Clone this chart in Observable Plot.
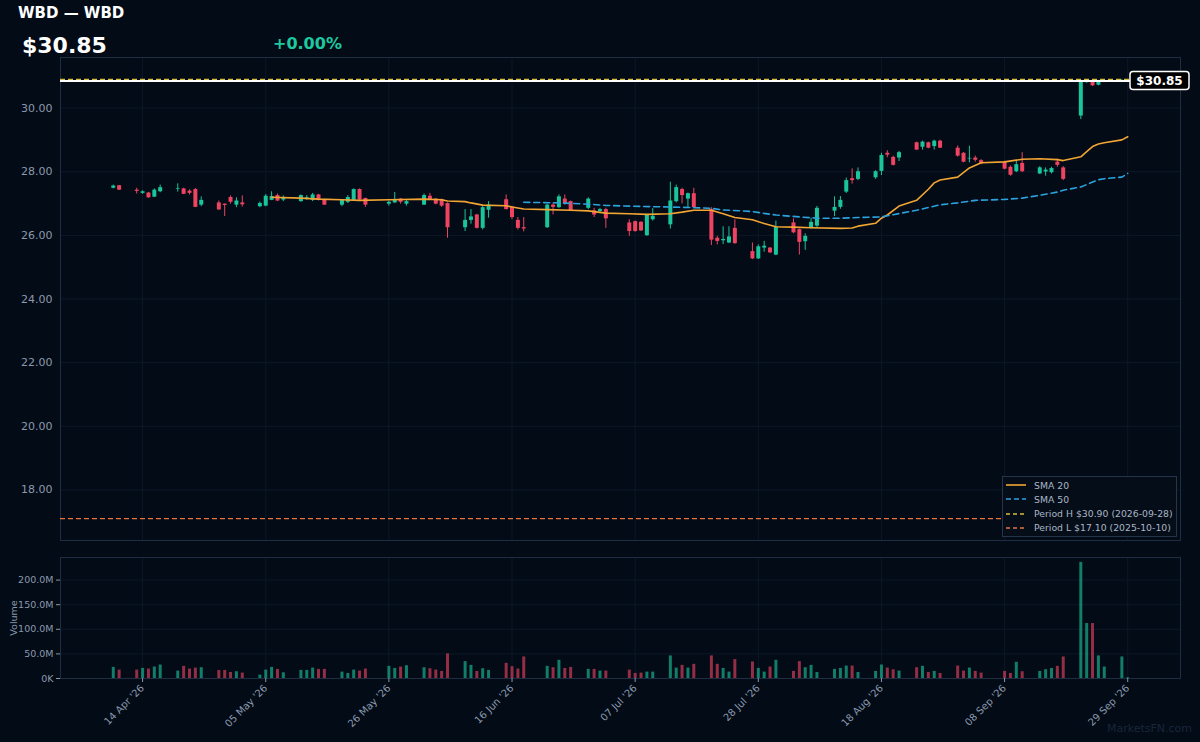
<!DOCTYPE html>
<html><head><meta charset="utf-8">
<script src="https://cdn.jsdelivr.net/npm/d3@7"></script>
<script src="https://cdn.jsdelivr.net/npm/@observablehq/plot@0.6"></script>
<style>
html,body{margin:0;padding:0;background:#030b16;}
#root{position:relative;width:1200px;height:742px;overflow:hidden;font-family:"DejaVu Sans",sans-serif;background:#030b16;}
#root svg{display:block;}
.abs{position:absolute;}
#title{left:18px;top:4px;color:#ffffff;font-weight:bold;font-size:15px;}
#last{left:22px;top:33px;color:#ffffff;font-weight:bold;font-size:22px;}
#chg{left:273px;top:34px;color:#1ec9a0;font-weight:bold;font-size:16px;}
#pricebox{left:0;top:0;}
#volbox{left:0;top:545px;}
#legend{left:1002px;top:476px;width:173px;height:59px;border:1px solid #25344a;background:#050d19;font-size:9.3px;color:#aab6c6;}
.lrow{position:absolute;left:3px;height:14px;display:flex;align-items:center;white-space:nowrap;}
.lrow svg{margin-right:8px;flex:none;}
#wm{right:8px;top:722px;color:#18263a;font-size:11px;}
</style></head>
<body><div id="root">
<div id="pricebox" class="abs"></div>
<div id="volbox" class="abs"></div>
<div id="title" class="abs"></div>
<div id="last" class="abs"></div>
<div id="chg" class="abs"></div>
<div id="legend" class="abs"></div>
<div id="wm" class="abs">MarketsFN.com</div>
</div>
<script>
const titleText = "WBD — WBD";
const dates = ["2026-04-09","2026-04-10","2026-04-13","2026-04-14","2026-04-15","2026-04-16","2026-04-17","2026-04-20","2026-04-21","2026-04-22","2026-04-23","2026-04-24","2026-04-27","2026-04-28","2026-04-29","2026-04-30","2026-05-01","2026-05-04","2026-05-05","2026-05-06","2026-05-07","2026-05-08","2026-05-11","2026-05-12","2026-05-13","2026-05-14","2026-05-15","2026-05-18","2026-05-19","2026-05-20","2026-05-21","2026-05-22","2026-05-26","2026-05-27","2026-05-28","2026-05-29","2026-06-01","2026-06-02","2026-06-03","2026-06-04","2026-06-05","2026-06-08","2026-06-09","2026-06-10","2026-06-11","2026-06-12","2026-06-15","2026-06-16","2026-06-17","2026-06-18","2026-06-22","2026-06-23","2026-06-24","2026-06-25","2026-06-26","2026-06-29","2026-06-30","2026-07-01","2026-07-02","2026-07-06","2026-07-07","2026-07-08","2026-07-09","2026-07-10","2026-07-13","2026-07-14","2026-07-15","2026-07-16","2026-07-17","2026-07-20","2026-07-21","2026-07-22","2026-07-23","2026-07-24","2026-07-27","2026-07-28","2026-07-29","2026-07-30","2026-07-31","2026-08-03","2026-08-04","2026-08-05","2026-08-06","2026-08-07","2026-08-10","2026-08-11","2026-08-12","2026-08-13","2026-08-14","2026-08-17","2026-08-18","2026-08-19","2026-08-20","2026-08-21","2026-08-24","2026-08-25","2026-08-26","2026-08-27","2026-08-28","2026-08-31","2026-09-01","2026-09-02","2026-09-03","2026-09-04","2026-09-08","2026-09-09","2026-09-10","2026-09-11","2026-09-14","2026-09-15","2026-09-16","2026-09-17","2026-09-18","2026-09-21","2026-09-22","2026-09-23","2026-09-24","2026-09-25","2026-09-28","2026-09-29"];
const open = [27.48,27.56,27.42,27.32,27.33,27.20,27.37,27.45,27.46,27.39,27.44,26.95,27.02,26.98,27.19,26.95,27.02,26.90,26.92,27.10,27.25,27.11,27.06,27.14,27.10,27.27,27.12,26.95,27.04,27.10,27.44,27.16,26.98,27.02,27.14,26.98,26.95,27.23,27.14,27.12,27.00,26.24,26.47,26.64,26.22,26.79,27.12,26.89,26.47,26.24,26.24,26.95,26.87,27.14,27.06,26.85,26.77,26.75,26.81,26.39,26.43,26.41,25.99,26.49,26.33,27.06,27.44,27.14,27.31,26.81,25.91,25.83,25.76,26.22,25.49,25.26,25.60,25.60,25.38,26.39,26.18,25.80,26.22,26.29,26.76,26.88,27.36,27.78,27.76,27.81,28.01,28.58,28.45,28.43,28.91,28.77,28.91,28.79,28.96,28.74,28.58,28.40,28.43,28.35,28.30,28.14,28.00,28.26,27.93,27.99,27.97,28.30,28.12,29.75,30.80,30.82,30.72,30.82,30.83,30.85];
const high = [27.58,27.57,27.48,27.40,27.35,27.46,27.58,27.62,27.48,27.43,27.47,27.21,27.08,26.99,27.24,27.18,27.24,27.05,27.28,27.37,27.30,27.24,27.27,27.25,27.32,27.29,27.14,27.13,27.25,27.46,27.46,27.17,27.08,27.35,27.16,27.12,27.30,27.32,27.16,27.14,27.02,26.81,26.81,26.66,26.91,27.06,27.27,26.91,26.56,26.56,26.98,27.02,27.27,27.27,27.08,27.18,26.85,26.85,26.85,26.49,26.45,26.43,26.66,26.84,27.67,27.58,27.48,27.33,27.48,26.87,25.97,26.27,26.27,26.49,25.76,25.70,25.81,25.62,26.45,26.52,26.20,26.05,26.54,26.91,27.21,27.22,27.80,28.09,28.12,28.03,28.58,28.66,28.49,28.64,28.93,28.96,28.93,28.99,28.99,28.81,28.60,28.80,28.49,28.38,28.33,28.18,28.33,28.60,28.16,28.12,28.14,28.40,28.16,30.88,30.89,30.86,30.87,30.88,30.90,30.85];
const low = [27.46,27.41,27.30,27.29,27.17,27.19,27.34,27.36,27.28,27.27,26.87,26.90,26.78,26.59,26.98,26.87,26.89,26.87,26.90,27.09,27.06,27.06,27.04,27.10,27.06,27.08,26.94,26.90,27.00,27.08,27.09,26.88,26.92,27.00,26.98,26.92,26.94,27.10,26.96,26.88,25.91,26.12,26.35,26.20,26.17,26.54,26.80,26.50,26.17,26.11,26.22,26.64,26.85,26.95,26.75,26.81,26.56,26.70,26.22,25.97,26.10,26.12,25.97,26.45,26.20,27.02,26.99,26.85,26.85,25.68,25.70,25.71,25.74,25.72,25.24,25.24,25.47,25.43,25.36,26.05,25.38,25.53,26.20,26.25,26.59,26.82,27.32,27.61,27.72,27.76,27.88,28.44,28.18,28.32,28.67,28.68,28.72,28.68,28.73,28.46,28.28,28.28,28.30,28.22,28.06,27.86,27.97,27.97,27.91,27.86,27.93,28.14,27.72,29.64,30.78,30.68,30.70,30.80,30.80,30.85];
const close = [27.55,27.42,27.38,27.37,27.18,27.42,27.50,27.47,27.29,27.32,26.88,27.10,26.80,26.94,27.04,27.08,26.96,27.00,27.23,27.22,27.08,27.18,27.25,27.18,27.27,27.10,26.95,27.10,27.19,27.44,27.11,26.95,27.04,27.10,27.04,27.06,27.25,27.12,26.98,26.92,26.24,26.47,26.58,26.22,26.87,26.95,26.81,26.56,26.22,26.20,26.95,26.88,27.21,26.98,26.77,27.14,26.64,26.81,26.52,26.12,26.12,26.14,26.64,26.60,27.08,27.50,27.25,27.31,26.87,25.85,25.81,25.87,25.95,25.74,25.26,25.64,25.66,25.45,26.26,26.08,25.78,25.97,26.41,26.85,26.88,27.10,27.72,27.72,28.00,28.00,28.51,28.52,28.20,28.60,28.68,28.93,28.74,28.96,28.74,28.49,28.30,28.42,28.36,28.25,28.08,27.89,28.22,28.00,28.12,28.05,28.10,28.20,27.76,30.83,30.86,30.70,30.84,30.86,30.85,30.85];
const volumeM = [22.6,17.1,17.1,20.5,19.2,23.3,27.4,15.1,24.7,19.2,21.2,21.9,16.4,16.4,12.3,13.7,11.0,6.9,17.1,22.6,18.5,11.6,16.4,16.4,21.2,18.5,18.5,13.0,10.3,17.1,15.1,19.2,24.7,20.5,23.3,26.0,21.9,19.9,17.1,14.4,50.0,34.3,26.7,14.4,19.9,16.4,30.8,24.0,19.2,43.8,24.7,21.9,37.0,20.5,22.6,18.5,18.5,15.1,15.1,17.1,10.3,11.0,13.0,13.0,45.9,21.2,26.7,21.2,28.8,45.9,28.8,20.5,13.0,38.4,33.6,20.5,13.0,23.3,37.0,14.4,34.3,21.9,26.7,12.3,18.5,20.5,25.3,25.3,12.3,14.4,27.4,21.2,17.8,15.1,21.9,24.7,12.3,14.4,10.3,25.3,15.1,21.2,14.4,11.0,14.4,10.3,32.9,13.7,14.4,17.8,20.5,24.7,43.8,236.0,111.7,111.7,45.9,23.3,43.8,1.5];

const sma20Dates = ["2026-05-06","2026-05-11","2026-05-14","2026-05-18","2026-05-21","2026-05-26","2026-06-01","2026-06-04","2026-06-05","2026-06-08","2026-06-09","2026-06-11","2026-06-15","2026-06-16","2026-06-18","2026-06-22","2026-06-26","2026-06-29","2026-07-02","2026-07-06","2026-07-09","2026-07-13","2026-07-15","2026-07-17","2026-07-20","2026-07-22","2026-07-24","2026-07-27","2026-07-29","2026-07-31","2026-08-03","2026-08-06","2026-08-11","2026-08-13","2026-08-14","2026-08-17","2026-08-18","2026-08-19","2026-08-21","2026-08-24","2026-08-26","2026-08-27","2026-08-28","2026-08-31","2026-09-02","2026-09-04","2026-09-08","2026-09-11","2026-09-14","2026-09-17","2026-09-18","2026-09-21","2026-09-22","2026-09-23","2026-09-24","2026-09-25","2026-09-28","2026-09-29"];
const sma20Values = [27.20,27.17,27.14,27.12,27.10,27.12,27.14,27.12,27.08,27.06,27.02,26.95,26.93,26.89,26.83,26.81,26.79,26.77,26.70,26.68,26.66,26.68,26.73,26.79,26.79,26.68,26.56,26.49,26.37,26.27,26.26,26.24,26.22,26.23,26.29,26.38,26.54,26.64,26.92,27.10,27.45,27.65,27.74,27.83,28.12,28.28,28.31,28.39,28.41,28.38,28.35,28.47,28.63,28.79,28.87,28.91,29.00,29.10];
const sma50Dates = ["2026-06-18","2026-06-24","2026-06-29","2026-07-02","2026-07-08","2026-07-13","2026-07-17","2026-07-20","2026-07-22","2026-07-27","2026-07-29","2026-07-31","2026-08-04","2026-08-07","2026-08-11","2026-08-14","2026-08-18","2026-08-20","2026-08-24","2026-08-28","2026-08-31","2026-09-03","2026-09-08","2026-09-11","2026-09-14","2026-09-17","2026-09-18","2026-09-21","2026-09-24","2026-09-25","2026-09-28","2026-09-29"];
const sma50Values = [27.04,27.02,26.98,26.94,26.91,26.89,26.87,26.85,26.80,26.75,26.69,26.64,26.58,26.54,26.54,26.56,26.58,26.65,26.79,26.96,27.02,27.10,27.13,27.17,27.26,27.36,27.42,27.52,27.75,27.78,27.83,27.95];

const periodHigh = 30.90, periodHighDate = "2026-09-28";
const periodLow = 17.10, periodLowDate = "2025-10-10";
const legendLabels = ["SMA 20", "SMA 50", `Period H $${periodHigh.toFixed(2)} (${periodHighDate})`, `Period L $${periodLow.toFixed(2)} (${periodLowDate})`];
const xTickDates = ["2026-04-14","2026-05-05","2026-05-26","2026-06-16","2026-07-07","2026-07-28","2026-08-18","2026-09-08","2026-09-29"];
const yTicks = [18,20,22,24,26,28,30];
const volTicks = [0,50,100,150,200];

const UP = "#1bc59c", DOWN = "#ee4462";
const C_SMA20 = "#f2a533", C_SMA50 = "#2ba3df", C_H = "#d8bd3e", C_L = "#e8743b";
const GRID = "#0d1828", FRAME = "#1f2d42", TXT = "#8a99ae";

const rows = dates.map((d, i) => ({date: new Date(d), open: open[i], high: high[i], low: low[i], close: close[i], vol: volumeM[i], up: close[i] >= open[i]}));
const sma20 = sma20Dates.map((d, i) => ({date: new Date(d), v: sma20Values[i]}));
const sma50 = sma50Dates.map((d, i) => ({date: new Date(d), v: sma50Values[i]}));
const xT = xTickDates.map(d => new Date(d));
const first = rows[0].date, lastD = rows[rows.length - 1].date;
const day = 864e5;
const xDomain = [new Date(+first - 9 * day), new Date(+lastD + 9 * day)];
const span = periodHigh - periodLow;
const yDomain = [periodLow - span * 0.05, periodHigh + span * 0.05];
const lastClose = close[close.length - 1];
const prevClose = close[close.length - 2];
const pct = (lastClose - prevClose) / prevClose * 100;

document.getElementById("title").textContent = titleText;
document.getElementById("last").textContent = "$" + lastClose.toFixed(2);
document.getElementById("chg").textContent = (pct >= 0 ? "+" : "") + pct.toFixed(2) + "%";
document.getElementById("chg").style.color = pct >= 0 ? "#1ec9a0" : DOWN;

const price = Plot.plot({
  width: 1200, height: 545,
  marginTop: 57, marginBottom: 5, marginLeft: 60, marginRight: 20,
  style: {background: "transparent", color: TXT, fontFamily: "DejaVu Sans", fontSize: "11px"},
  x: {type: "utc", domain: xDomain, axis: null},
  y: {domain: yDomain},
  marks: [
    Plot.gridX(xT, {stroke: GRID, strokeOpacity: 1}),
    Plot.gridY(yTicks, {stroke: GRID, strokeOpacity: 1}),
    Plot.frame({stroke: FRAME}),
    Plot.axisY(yTicks, {tickSize: 0, tickPadding: 8, tickFormat: d => d.toFixed(2), label: null, fontSize: 11}),
    Plot.ruleY([periodLow], {stroke: C_L, strokeWidth: 1.3, strokeDasharray: "5,3"}),
    Plot.ruleX(rows, {x: "date", y1: "low", y2: "high", stroke: d => d.up ? UP : DOWN, strokeWidth: 1}),
    Plot.ruleX(rows, {x: "date", y1: "open", y2: "close", stroke: d => d.up ? UP : DOWN, strokeWidth: 4}),
    Plot.line(sma20, {x: "date", y: "v", stroke: C_SMA20, strokeWidth: 1.6}),
    Plot.line(sma50, {x: "date", y: "v", stroke: C_SMA50, strokeWidth: 1.6, strokeDasharray: "6,4"}),
    Plot.ruleY([lastClose], {stroke: "#ffffff", strokeWidth: 2}),
    Plot.ruleY([periodHigh], {stroke: C_H, strokeWidth: 1.2, strokeDasharray: "5,3"})
  ]
});
document.getElementById("pricebox").appendChild(price);

// last price tag, positioned by the plot's own y scale
const yS = price.scale("y");
const yy = yS.apply(lastClose);
const g = d3.select(price).append("g");
g.append("rect").attr("x", 1130).attr("y", yy - 9).attr("width", 59).attr("height", 18).attr("rx", 3)
  .attr("fill", "#000000").attr("stroke", "#ffffff").attr("stroke-width", 1.5);
g.append("text").attr("x", 1159.5).attr("y", yy).attr("dy", "0.35em").attr("text-anchor", "middle")
  .attr("fill", "#ffffff").attr("font-weight", "bold").attr("font-size", 12).attr("font-family", "DejaVu Sans")
  .text("$" + lastClose.toFixed(2));

const vol = Plot.plot({
  width: 1200, height: 197,
  marginTop: 12, marginBottom: 64, marginLeft: 60, marginRight: 20,
  style: {background: "transparent", color: TXT, fontFamily: "DejaVu Sans", fontSize: "10px"},
  x: {type: "utc", domain: xDomain},
  y: {domain: [0, d3.max(volumeM) * 1.042]},
  marks: [
    Plot.gridX(xT, {stroke: GRID, strokeOpacity: 1}),
    Plot.gridY(volTicks, {stroke: GRID, strokeOpacity: 1}),
    Plot.frame({stroke: FRAME}),
    Plot.ruleX(rows, {x: "date", y1: 0, y2: "vol", stroke: d => d.up ? UP : DOWN, strokeOpacity: 0.62, strokeWidth: 3}),
    Plot.axisY(volTicks, {tickSize: 4, tickPadding: 3, tickFormat: d => d === 0 ? "0K" : d.toFixed(1) + "M",
      label: "Volume", labelAnchor: "center", labelArrow: "none", labelOffset: 50, fontSize: 9.5}),
    Plot.axisX(xT, {tickRotate: -45, tickSize: 4, tickPadding: 4, tickFormat: d3.utcFormat("%d %b '%y"), label: null, fontSize: 10})
  ]
});
document.getElementById("volbox").appendChild(vol);

// legend
const leg = document.getElementById("legend");
const styles = [[C_SMA20, null], [C_SMA50, "5,3"], [C_H, "4,3"], [C_L, "4,3"]];
legendLabels.forEach((lab, i) => {
  const row = document.createElement("div");
  row.className = "lrow";
  row.style.top = (1 + i * 14.3) + "px";
  const [c, da] = styles[i];
  row.innerHTML = `<svg width="20" height="6"><line x1="0" y1="3" x2="20" y2="3" stroke="${c}" stroke-width="1.6" ${da ? `stroke-dasharray="${da}"` : ""}/></svg><span>${lab}</span>`;
  leg.appendChild(row);
});
</script>
</body></html>
